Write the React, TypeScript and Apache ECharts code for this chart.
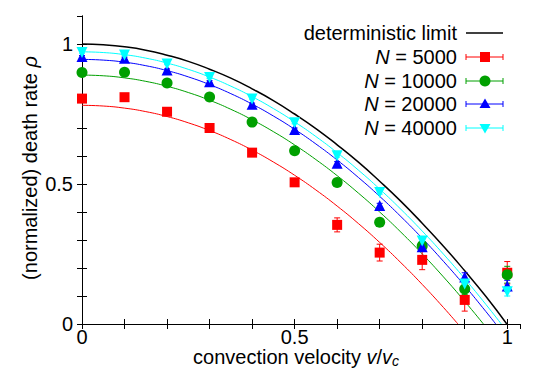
import React, { useEffect, useRef } from 'react';
import * as echarts from 'echarts';

const FONT = '"Liberation Sans", Arial, Helvetica, sans-serif';
const FS = 20;

const velocities = [0, 0.1, 0.2, 0.3, 0.4, 0.5, 0.6, 0.7, 0.8, 0.9, 1.0];
const rateN5000 = [0.805, 0.81, 0.758, 0.7, 0.612, 0.506, 0.354, 0.255, 0.229, 0.086, 0.183];
const errN5000 = [0.008, 0.008, 0.008, 0.008, 0.008, 0.01, 0.025, 0.03, 0.035, 0.04, 0.04];
const rateN10000 = [0.898, 0.899, 0.861, 0.811, 0.721, 0.619, 0.505, 0.363, 0.279, 0.125, 0.176];
const errN10000 = [0.005, 0.005, 0.005, 0.005, 0.005, 0.006, 0.008, 0.01, 0.015, 0.02, 0.03];
const rateN20000 = [0.955, 0.949, 0.907, 0.865, 0.785, 0.695, 0.574, 0.423, 0.276, 0.168, 0.136];
const errN20000 = [0.004, 0.004, 0.004, 0.004, 0.004, 0.005, 0.006, 0.008, 0.01, 0.015, 0.02];
const rateN40000 = [0.97, 0.961, 0.929, 0.88, 0.804, 0.719, 0.601, 0.47, 0.296, 0.143, 0.115];
const errN40000 = [0.003, 0.003, 0.003, 0.003, 0.003, 0.004, 0.005, 0.006, 0.008, 0.012, 0.015];

// fitted curves
const fitDeterministic: [number, number][] = [
  [0, 1.0], [0.05, 0.997], [0.1, 0.99], [0.15, 0.978], [0.2, 0.96], [0.25, 0.938], [0.3, 0.91],
  [0.35, 0.878], [0.4, 0.84], [0.45, 0.798], [0.5, 0.75], [0.55, 0.698], [0.6, 0.64], [0.65, 0.578],
  [0.7, 0.51], [0.75, 0.438], [0.8, 0.36], [0.85, 0.278], [0.9, 0.19], [0.95, 0.098], [0.999, 0.0],
];
const fitN40000: [number, number][] = [
  [0, 0.972], [0.05, 0.9695], [0.1, 0.962], [0.15, 0.9495], [0.2, 0.932], [0.25, 0.9095], [0.3, 0.882],
  [0.35, 0.8495], [0.4, 0.812], [0.45, 0.7695], [0.5, 0.722], [0.55, 0.6695], [0.6, 0.612], [0.65, 0.5495],
  [0.7, 0.482], [0.75, 0.4095], [0.8, 0.332], [0.85, 0.2495], [0.9, 0.162], [0.95, 0.0695], [0.986, 0.0],
];
const fitN20000: [number, number][] = [
  [0, 0.945], [0.05, 0.9425], [0.1, 0.935], [0.15, 0.9225], [0.2, 0.905], [0.25, 0.8826], [0.3, 0.855],
  [0.35, 0.8227], [0.4, 0.7853], [0.45, 0.7429], [0.5, 0.6954], [0.55, 0.643], [0.6, 0.5856], [0.65, 0.5233],
  [0.7, 0.4559], [0.75, 0.3835], [0.8, 0.3062], [0.85, 0.2238], [0.9, 0.1365], [0.95, 0.0441], [0.973, 0.0],
];
const fitN10000: [number, number][] = [
  [0, 0.889], [0.05, 0.8865], [0.1, 0.879], [0.15, 0.8666], [0.2, 0.849], [0.25, 0.8267], [0.3, 0.7992],
  [0.35, 0.7668], [0.4, 0.7293], [0.45, 0.687], [0.5, 0.6396], [0.55, 0.5872], [0.6, 0.5298], [0.65, 0.4675],
  [0.7, 0.4001], [0.75, 0.3279], [0.8, 0.2505], [0.85, 0.1682], [0.9, 0.0809], [0.944, 0.0],
];
const fitN5000: [number, number][] = [
  [0, 0.781], [0.05, 0.7785], [0.1, 0.771], [0.15, 0.7585], [0.2, 0.741], [0.25, 0.7185], [0.3, 0.691],
  [0.35, 0.6586], [0.4, 0.6211], [0.45, 0.5786], [0.5, 0.5312], [0.55, 0.4787], [0.6, 0.4212], [0.65, 0.3588],
  [0.7, 0.2913], [0.75, 0.2188], [0.8, 0.1414], [0.85, 0.059], [0.884, 0.0],
];

const xTickLabels = ['0', '0.5', '1'];
const yTickLabels = ['0', '0.5', '1'];

const RED = '#ff0000';
const GREEN = '#00a000';
const BLUE = '#0000ff';
const CYAN = '#00ffff';

function fmt(labels: string[]) {
  return (v: number) => {
    for (const l of labels) {
      if (Math.abs(v - parseFloat(l)) < 1e-6) return l;
    }
    return '';
  };
}

function errorSeries(rates: number[], errs: number[], color: string) {
  return {
    type: 'custom',
    xAxisIndex: 0,
    yAxisIndex: 0,
    silent: true,
    z: 3,
    data: velocities.map((v, i) => [v, rates[i], errs[i]]),
    renderItem: (params: any, api: any) => {
      const x = api.value(0);
      const y = api.value(1);
      const e = api.value(2);
      const top = api.coord([x, y + e]);
      const bot = api.coord([x, y - e]);
      const st = { stroke: color, lineWidth: 1 };
      return {
        type: 'group',
        children: [
          { type: 'line', shape: { x1: top[0], y1: top[1], x2: bot[0], y2: bot[1] }, style: st },
          { type: 'line', shape: { x1: top[0] - 3, y1: top[1], x2: top[0] + 3, y2: top[1] }, style: st },
          { type: 'line', shape: { x1: bot[0] - 3, y1: bot[1], x2: bot[0] + 3, y2: bot[1] }, style: st },
        ],
      };
    },
  };
}

function pointSeries(rates: number[], color: string, symbol: string, size: number, rotate = 0) {
  return {
    type: 'line',
    data: velocities.map((v, i) => [v, rates[i]]),
    lineStyle: { opacity: 0 },
    symbol,
    symbolSize: size,
    symbolRotate: rotate,
    showSymbol: true,
    itemStyle: { color },
    z: 4,
  };
}

function fitSeries(pts: [number, number][], color: string, width = 1) {
  return {
    type: 'line',
    data: pts,
    smooth: true,
    symbol: 'none',
    lineStyle: { color, width },
    z: 2,
  };
}

function legendRow(y: number, label: any, color: string, marker: any, caps: boolean, width = 1) {
  const x1 = 466;
  const x2 = 503;
  const cx = 485;
  const children: any[] = [
    {
      type: 'text',
      style: {
        x: 457,
        y,
        text: label,
        align: 'right',
        verticalAlign: 'middle',
        fontSize: FS,
        fontFamily: FONT,
        fill: '#000',
        rich: { i: { fontStyle: 'italic', fontSize: FS, fontFamily: FONT } },
      },
    },
    { type: 'line', shape: { x1, y1: y, x2, y2: y }, style: { stroke: color, lineWidth: width } },
  ];
  if (caps) {
    children.push({ type: 'line', shape: { x1, y1: y - 3, x2: x1, y2: y + 3 }, style: { stroke: color, lineWidth: 1 } });
    children.push({ type: 'line', shape: { x1: x2, y1: y - 3, x2, y2: y + 3 }, style: { stroke: color, lineWidth: 1 } });
  }
  if (marker === 'rect') children.push({ type: 'rect', shape: { x: cx - 5, y: y - 5, width: 10, height: 10 }, style: { fill: color } });
  if (marker === 'circle') children.push({ type: 'circle', shape: { cx, cy: y, r: 5.5 }, style: { fill: color } });
  if (marker === 'up') children.push({ type: 'polygon', shape: { points: [[cx, y - 5.5], [cx + 5.5, y + 4], [cx - 5.5, y + 4]] }, style: { fill: color } });
  if (marker === 'down') children.push({ type: 'polygon', shape: { points: [[cx, y + 5.5], [cx + 5.5, y - 4], [cx - 5.5, y - 4]] }, style: { fill: color } });
  return { type: 'group', children };
}

export default function App() {
  const ref = useRef<HTMLDivElement>(null);
  useEffect(() => {
    if (!ref.current) return;
    const chart = echarts.init(ref.current, undefined, { renderer: 'svg' });
    const axisCommon = {
      type: 'value',
      interval: 0.1,
      axisLine: { show: true, lineStyle: { color: '#000', width: 1 } },
      axisTick: { show: true, inside: true, length: 5, lineStyle: { color: '#000', width: 1 } },
      splitLine: { show: false },
    };
    chart.setOption({
      animation: false,
      backgroundColor: '#fff',
      grid: { left: 82, right: 25, top: 16, bottom: 58 },
      xAxis: [
        {
          ...axisCommon,
          min: 0,
          max: 1.03,
          position: 'bottom',
          axisLabel: { formatter: fmt(xTickLabels), fontSize: FS, lineHeight: 18, color: '#000', fontFamily: FONT, margin: 4, showMaxLabel: false },
        },
        {
          ...axisCommon,
          min: 0,
          max: 1.03,
          position: 'top',
          axisLabel: { show: false },
        },
      ],
      yAxis: [
        {
          ...axisCommon,
          min: 0,
          max: 1.1,
          position: 'left',
          axisLabel: { formatter: fmt(yTickLabels), fontSize: FS, color: '#000', fontFamily: FONT, margin: 9, showMaxLabel: false },
        },
        {
          ...axisCommon,
          min: 0,
          max: 1.1,
          position: 'right',
          axisLabel: { show: false },
        },
      ],
      series: [
        fitSeries(fitDeterministic, '#000', 1.5),
        fitSeries(fitN5000, RED),
        fitSeries(fitN10000, GREEN),
        fitSeries(fitN20000, BLUE),
        fitSeries(fitN40000, CYAN),
        errorSeries(rateN5000, errN5000, RED),
        pointSeries(rateN5000, RED, 'rect', 10),
        errorSeries(rateN10000, errN10000, GREEN),
        pointSeries(rateN10000, GREEN, 'circle', 11),
        errorSeries(rateN20000, errN20000, BLUE),
        pointSeries(rateN20000, BLUE, 'triangle', 11),
        errorSeries(rateN40000, errN40000, CYAN),
        pointSeries(rateN40000, CYAN, 'triangle', 11, 180),
      ],
      graphic: [
        {
          type: 'text',
          x: 30,
          y: 168,
          rotation: Math.PI / 2,
          style: {
            text: '(normalized) death rate {i|ρ}',
            align: 'center',
            verticalAlign: 'middle',
            fontSize: FS,
            fontFamily: FONT,
            fill: '#000',
            rich: { i: { fontStyle: 'italic', fontSize: FS, fontFamily: FONT } },
          },
        },
        {
          type: 'text',
          x: 296,
          y: 357,
          style: {
            text: 'convection velocity {i|v}/{i|v}{s|c}',
            align: 'center',
            verticalAlign: 'middle',
            fontSize: FS,
            lineHeight: 20,
            fontFamily: FONT,
            fill: '#000',
            rich: {
              i: { fontStyle: 'italic', fontSize: FS, lineHeight: 20, fontFamily: FONT },
              s: { fontStyle: 'italic', fontSize: 14, lineHeight: 20, fontFamily: FONT, padding: [8, 0, 0, 0] },
            },
          },
        },
        legendRow(33, 'deterministic limit', '#000', null, false, 1.5),
        legendRow(57, '{i|N} = 5000', RED, 'rect', true),
        legendRow(81, '{i|N} = 10000', GREEN, 'circle', true),
        legendRow(104, '{i|N} = 20000', BLUE, 'up', true),
        legendRow(128, '{i|N} = 40000', CYAN, 'down', true),
      ],
    });
    return () => chart.dispose();
  }, []);
  return <div ref={ref} style={{ width: 545, height: 382, position: 'absolute', left: 0, top: 0 }} />;
}
